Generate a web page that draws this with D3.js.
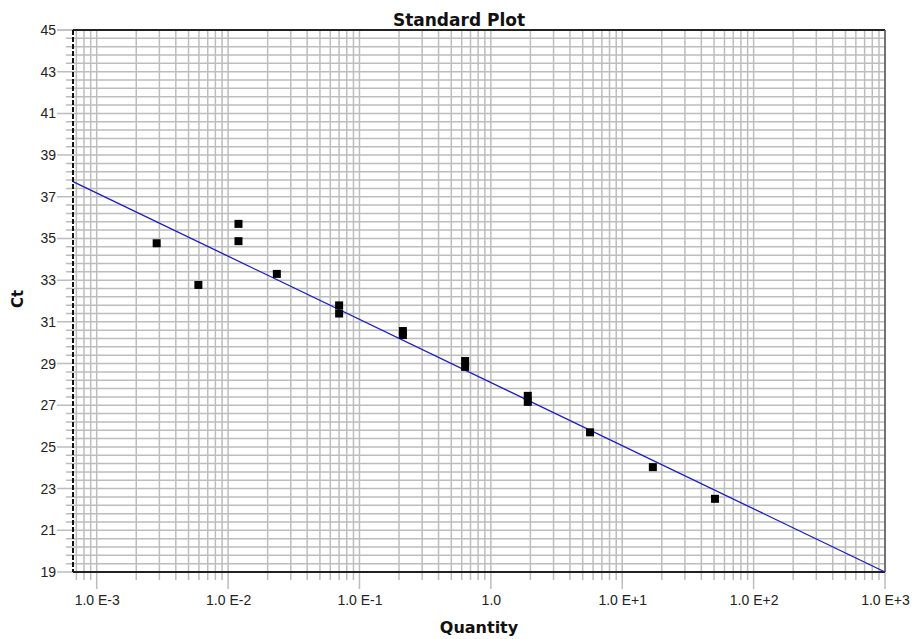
<!DOCTYPE html>
<html><head><meta charset="utf-8">
<script src="https://cdn.jsdelivr.net/npm/d3@7"></script>
<style>
html,body{margin:0;padding:0;background:#fff;}
svg{display:block;font-family:"Liberation Sans",Arial,sans-serif;}
</style></head>
<body><svg id="c" width="912" height="639"></svg>
<script>
// ---- data ----
const title = "Standard Plot";
const xTitle = "Quantity";
const yTitle = "Ct";
const xTickValues = [1e-3, 1e-2, 1e-1, 1, 1e1, 1e2, 1e3];
const xTickLabels = ["1.0 E-3", "1.0 E-2", "1.0 E-1", "1.0", "1.0 E+1", "1.0 E+2", "1.0 E+3"];
const yTickValues = [19, 21, 23, 25, 27, 29, 31, 33, 35, 37, 39, 41, 43, 45];
const quantity = [0.00286, 0.00594, 0.0120, 0.0120, 0.0235, 0.0700, 0.0700, 0.214, 0.214, 0.637, 0.637, 1.91, 1.91, 5.69, 17.1, 50.8];
const ctValues = [34.77, 32.77, 35.70, 34.87, 33.30, 31.79, 31.40, 30.56, 30.37, 29.12, 28.84, 27.45, 27.16, 25.70, 24.03, 22.51];
const fitSlope = -3.03;
const fitIntercept = 28.09;

// ---- layout ----
const L = 73, R = 885, T = 30, B = 572;
const xDomain = [6.6e-4, 1000];
const x = d3.scaleLog().domain(xDomain).range([L, R]);
const y = d3.scaleLinear().domain([19, 45]).range([B, T]);
const svg = d3.select("#c");

// minor grid values
const xGrid = [];
for (let e = -4; e <= 3; e++) for (let m = 1; m <= 9; m++) {
  const v = m * Math.pow(10, e);
  if (v >= xDomain[0] && v <= xDomain[1] * 1.0001) xGrid.push(v);
}
const yGrid = d3.range(0, 66).map(i => 19 + i * 0.4).concat([45]);

const grid = svg.append("g");
grid.selectAll(".vg").data(xGrid).join("line")
  .attr("x1", d => x(d)).attr("x2", d => x(d))
  .attr("y1", T).attr("y2", d => B + (xTickValues.some(t => Math.abs(t - d) / t < 1e-6) ? 17 : 8))
  .attr("stroke", "#bdbdbd").attr("stroke-width", 1.5);
grid.selectAll(".hg").data(yGrid).join("line")
  .attr("y1", d => y(d)).attr("y2", d => y(d))
  .attr("x1", d => L - (yTickValues.some(t => Math.abs(t - d) < 1e-6) ? 16 : 7)).attr("x2", R)
  .attr("stroke", "#bdbdbd").attr("stroke-width", 1.5);

// frame
svg.append("line").attr("x1", L).attr("x2", R).attr("y1", T).attr("y2", T).attr("stroke", "#222").attr("stroke-width", 2);
svg.append("line").attr("x1", L).attr("x2", R).attr("y1", B).attr("y2", B).attr("stroke", "#222").attr("stroke-width", 2);
svg.append("line").attr("x1", R).attr("x2", R).attr("y1", T).attr("y2", B).attr("stroke", "#555").attr("stroke-width", 1.5);
svg.append("line").attr("x1", L).attr("x2", L).attr("y1", T).attr("y2", B).attr("stroke", "#111").attr("stroke-width", 2).attr("stroke-dasharray", "5,2");

// axes labels via d3 axes
const xAxis = d3.axisBottom(x).tickValues(xTickValues).tickSize(0).tickPadding(0)
  .tickFormat((d, i) => xTickLabels[i]);
const gx = svg.append("g").attr("transform", `translate(0,${B + 23})`).call(xAxis);
gx.select(".domain").remove();
gx.selectAll("text").attr("font-size", 14).attr("fill", "#222").attr("font-family", "Liberation Sans, Arial, sans-serif");

const yAxis = d3.axisLeft(y).tickValues(yTickValues).tickSize(0).tickPadding(0);
const gy = svg.append("g").attr("transform", `translate(${L - 17},0)`).call(yAxis);
gy.select(".domain").remove();
gy.selectAll("text").attr("font-size", 14).attr("fill", "#222").attr("font-family", "Liberation Sans, Arial, sans-serif");

// fit line
const lineX = xDomain;
svg.append("path")
  .datum(lineX)
  .attr("d", d3.line().x(d => x(d)).y(d => y(fitIntercept + fitSlope * Math.log10(d))))
  .attr("stroke", "#1a1acc").attr("stroke-width", 1.3).attr("fill", "none");

// points
const pts = quantity.map((q, i) => ({q, c: ctValues[i]}));
svg.selectAll(".pt").data(pts).join("rect")
  .attr("x", d => x(d.q) - 4).attr("y", d => y(d.c) - 4)
  .attr("width", 8).attr("height", 8).attr("fill", "#000");

// titles
const bold = "DejaVu Sans, Verdana, sans-serif";
svg.append("text").attr("x", 459).attr("y", 26).attr("text-anchor", "middle").attr("font-family", bold)
  .attr("font-size", 17).attr("font-weight", "bold").attr("fill", "#111").text(title);
svg.append("text").attr("x", 479).attr("y", 633).attr("text-anchor", "middle").attr("font-family", bold)
  .attr("font-size", 16).attr("font-weight", "bold").attr("fill", "#111").text(xTitle);
svg.append("text").attr("transform", "translate(23,299) rotate(-90)").attr("text-anchor", "middle").attr("font-family", bold)
  .attr("font-size", 15).attr("font-weight", "bold").attr("fill", "#111").text(yTitle);
</script></body></html>
